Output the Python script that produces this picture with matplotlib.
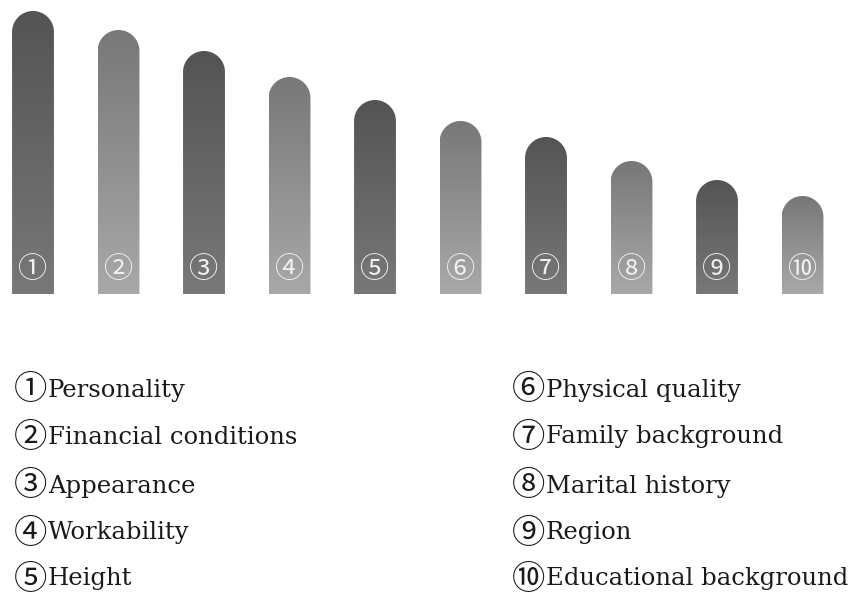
import numpy as np
import matplotlib
matplotlib.use("Agg")
import matplotlib.pyplot as plt
from matplotlib.path import Path
from matplotlib.patches import PathPatch

# ---- data ----
numbers = ["①", "②", "③", "④", "⑤", "⑥", "⑦", "⑧", "⑨", "⑩"]
factors = ["Personality", "Financial conditions", "Appearance", "Workability",
           "Height", "Physical quality", "Family background", "Marital history",
           "Region", "Educational background"]
scores = [283, 264, 243, 217, 194, 173, 157, 133, 114, 98]

W, H = 857, 599
fig = plt.figure(figsize=(W / 100, H / 100), dpi=100)
fig.patch.set_facecolor("white")

bottom_px = 294
ax = fig.add_axes([0, 1 - bottom_px / H, 1, bottom_px / H])
ax.set_xlim(1 - 33 / 85.5, 1 - 33 / 85.5 + W / 85.5)
ax.set_ylim(0, bottom_px)
ax.axis("off")

xs = np.arange(1, len(scores) + 1)
bar_w = 0.49
fig.canvas.draw()
px_x = ax.transData.transform((1, 0))[0] - ax.transData.transform((0, 0))[0]
px_y = ax.transData.transform((0, 1))[1] - ax.transData.transform((0, 0))[1]
r_px = bar_w / 2 * px_x
ry = r_px / px_y

circ_fam = ["Noto Sans CJK SC", "DejaVu Sans"]
grad = np.linspace(0, 1, 256).reshape(-1, 1)
for i, (x, v) in enumerate(zip(xs, scores)):
    left, right = x - bar_w / 2, x + bar_w / 2
    top_straight = v - ry
    theta = np.linspace(0, np.pi, 60)
    arc = [(x + (bar_w / 2) * np.cos(t), top_straight + ry * np.sin(t)) for t in theta]
    verts = [(left, 0), (right, 0)] + arc + [(left, 0)]
    codes = [Path.MOVETO] + [Path.LINETO] * (len(verts) - 2) + [Path.CLOSEPOLY]
    path = Path(verts, codes)
    patch = PathPatch(path, facecolor="none", edgecolor="none")
    ax.add_patch(patch)
    if i % 2 == 0:
        c_top, c_bot = 0.33, 0.47
    else:
        c_top, c_bot = 0.47, 0.66
    vals = c_top + (c_bot - c_top) * grad
    img = ax.imshow(np.dstack([vals, vals, vals]), extent=(left, right, 0, v),
                    origin="upper", aspect="auto", zorder=1, interpolation="bilinear")
    img.set_clip_path(patch)
    ax.text(x, 24, numbers[i], ha="center", va="center", color="#f0f0f0",
            fontsize=21, family=circ_fam, fontweight="light", zorder=3)

ax.set_xlim(1 - 33 / 85.5, 1 - 33 / 85.5 + W / 85.5)
ax.set_ylim(0, bottom_px)

row_y = [390, 437, 486, 533, 579]
fams = ["DejaVu Serif", "DejaVu Sans"]
for i in range(10):
    col = i // 5
    r = i % 5
    xpx = 14 if col == 0 else 512
    fig.text(xpx / W, 1 - row_y[r] / H, numbers[i], ha="left", va="center",
             fontsize=24, family=circ_fam, fontweight="light", color="#1a1a1a")
    fig.text((xpx + 34) / W, 1 - row_y[r] / H, factors[i], ha="left", va="center",
             fontsize=17.5, family=fams, color="#1a1a1a")

fig.savefig("out.png", dpi=100, facecolor="white")
